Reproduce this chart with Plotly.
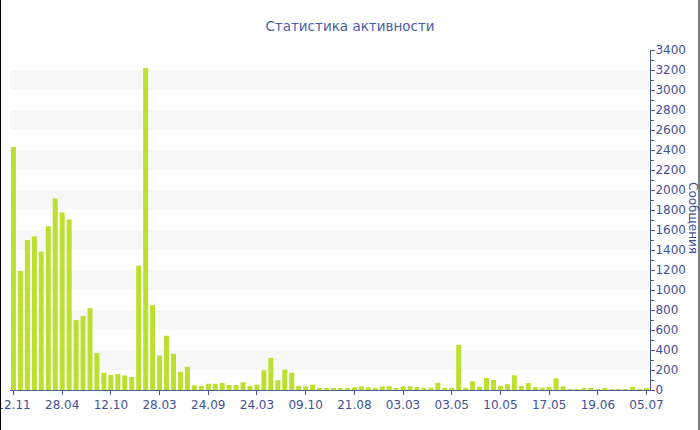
import plotly.graph_objects as go

# ---- data ----
values = [
    2430, 1190, 1500, 1535, 1384, 1638, 1916, 1775, 1705, 699,
    739, 819, 370, 172, 150, 162, 145, 130, 1244, 3220,
    848, 344, 543, 362, 182, 231, 48, 40, 62, 62,
    70, 50, 50, 77, 40, 54, 197, 321, 97, 204,
    174, 40, 37, 54, 20, 17, 13, 13, 17, 27,
    37, 27, 20, 37, 37, 17, 37, 37, 30, 17,
    23, 70, 17, 17, 451, 17, 87, 33, 120, 100,
    40, 57, 147, 40, 70, 30, 23, 30, 117, 37,
    10, 10, 17, 13, 10, 13, 10, 10, 10, 33,
    10, 17,
]
tick_labels = ["12.11", "28.04", "12.10", "28.03", "24.09", "24.03", "09.10",
               "21.08", "03.03", "03.05", "10.05", "17.05", "19.06", "05.07"]
tick_step = 7
title_text = "Статистика активности"
yaxis_title = "Сообщения"

x_idx = list(range(len(values)))
tick_vals = [i * tick_step for i in range(len(tick_labels))]

axis_col = "#4a5b9c"
text_col = "#3f5196"
bar_col = "#bbe02f"
font_family = "DejaVu Sans, Verdana, sans-serif"

W, H = 700, 430
ML, MR, MT, MB = 10, 50, 50, 40
PW, PH = W - ML - MR, H - MT - MB

def px_to_paper_x(px):
    return (px - ML) / PW

def py_to_paper_y(py):
    return (H - MB - py) / PH

fig = go.Figure()
fig.add_trace(go.Bar(
    x=x_idx, y=values,
    marker=dict(color=bar_col, line=dict(width=0)),
    hoverinfo="x+y",
))

shapes = []
# alternating light bands
for lo in range(200, 3400, 400):
    shapes.append(dict(type="rect", xref="paper", yref="y", x0=0, x1=1,
                       y0=lo, y1=lo + 200, fillcolor="#f7f7f7",
                       line=dict(width=0), layer="below"))
# left / right black border lines
for px in (0.5, W - 1):
    shapes.append(dict(type="line", xref="paper", yref="paper",
                       x0=px_to_paper_x(px), x1=px_to_paper_x(px),
                       y0=py_to_paper_y(H), y1=py_to_paper_y(0),
                       line=dict(color="#000000", width=1)))

fig.update_layout(
    width=W, height=H,
    margin=dict(l=ML, r=MR, t=MT, b=MB, pad=0, autoexpand=False),
    paper_bgcolor="white", plot_bgcolor="white",
    font=dict(family=font_family, color=text_col, size=12),
    title=dict(text=title_text, x=0.5, xanchor="center", xref="container",
               y=1 - 26 / H, yanchor="middle", yref="container",
               font=dict(size=13.5, color="#4b5ea6", family=font_family)),
    bargap=0.28,
    showlegend=False,
    shapes=shapes,
    annotations=[dict(text=yaxis_title, xref="paper", yref="paper",
                      x=px_to_paper_x(693), y=py_to_paper_y(218),
                      xanchor="center", yanchor="middle", showarrow=False,
                      textangle=90, font=dict(size=12, color=text_col))],
    xaxis=dict(
        range=[-0.5, len(values) - 0.5],
        tickmode="array", tickvals=tick_vals, ticktext=tick_labels,
        showgrid=False, zeroline=False,
        showline=True, linecolor=axis_col, linewidth=1,
        ticks="outside", ticklen=4, tickcolor=axis_col,
        tickfont=dict(size=12, color=text_col),
        ticklabeloverflow="allow",
        automargin=False,
        fixedrange=True,
    ),
    yaxis=dict(
        side="right", range=[0, 3400], dtick=200,
        showgrid=False, zeroline=False,
        showline=True, linecolor=axis_col, linewidth=1,
        ticks="outside", ticklen=4, tickcolor=axis_col,
        tickfont=dict(size=12, color=text_col),
        ticklabelstandoff=-2,
        minor=dict(dtick=100, ticks="outside", ticklen=3, tickcolor=axis_col),
        ticklabeloverflow="allow",
        automargin=False,
        fixedrange=True,
    ),
)

fig.write_html("out.html",
               config={"displayModeBar": False},
               post_script="document.body.style.margin='0';document.body.style.padding='0';")
